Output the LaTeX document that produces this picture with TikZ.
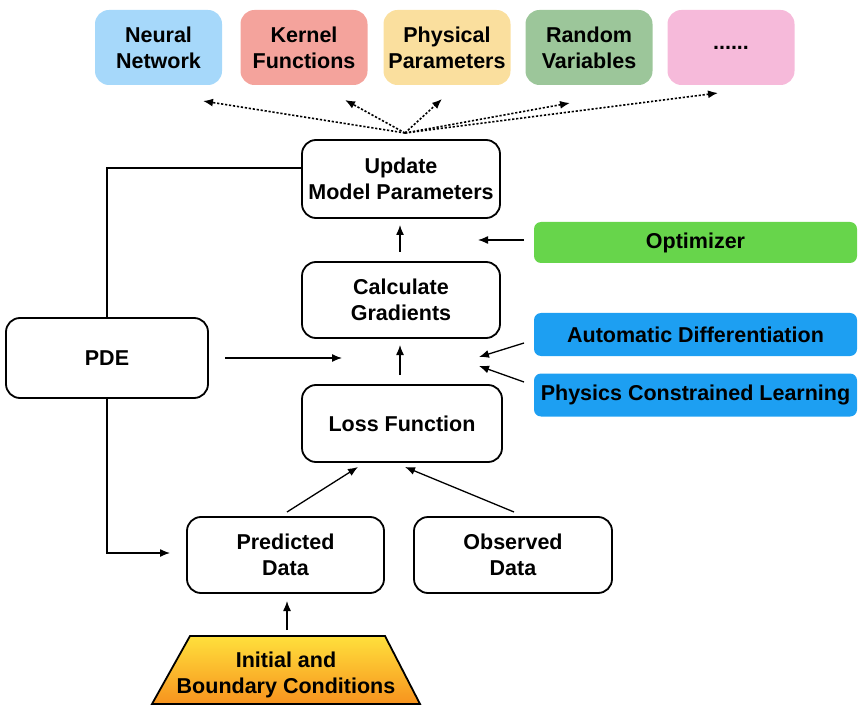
\documentclass[tikz,border=0pt]{standalone}
\usepackage{fontspec}
\setmainfont{Liberation Sans}
\usetikzlibrary{arrows.meta}
\definecolor{cNN}{HTML}{A6D8FA}
\definecolor{cKF}{HTML}{F4A39C}
\definecolor{cPP}{HTML}{FADF9E}
\definecolor{cRV}{HTML}{9CC69A}
\definecolor{cDOT}{HTML}{F6BADA}
\definecolor{cOPT}{HTML}{67D54B}
\definecolor{cBLU}{HTML}{1D9FF2}
\definecolor{cYel}{HTML}{FFE03C}
\definecolor{cOra}{HTML}{F7931E}
\begin{document}
\begin{tikzpicture}[x=1pt,y=-1pt,
  every node/.style={font=\fontsize{21.5}{26}\selectfont\bfseries, align=center, inner sep=0pt},
  topbox/.style={rounded corners=14pt, minimum width=127pt, minimum height=75pt},
  mainbox/.style={draw=black, line width=1.8pt, rounded corners=14pt, fill=white},
  sidebox/.style={rounded corners=7pt, minimum width=323pt, minimum height=43pt, fill=cBLU},
  arr/.style={line width=1.3pt, -{Latex[length=10pt,width=8pt]}},
  dotarr/.style={line width=1.6pt, dash pattern=on 2.2pt off 1.8pt, -{Latex[length=10pt,width=8pt]}},
  plain/.style={line width=1.3pt}]
\useasboundingbox (0,0) rectangle (864,708);
% top boxes
\node[topbox, fill=cNN] (nn) at (158.5,47.5) {Neural\\Network};
\node[topbox, fill=cKF] (kf) at (304,47.5) {Kernel\\Functions};
\node[topbox, fill=cPP] (pp) at (447,47.5) {Physical\\Parameters};
\node[topbox, fill=cRV] (rv) at (589,47.5) {Random\\Variables};
\node[topbox, fill=cDOT] (dd) at (731,47.5) {\raisebox{-4pt}{......}};
% main boxes
\node[mainbox, minimum width=198pt, minimum height=78pt] (upd) at (401,179) {Update\\Model Parameters};
\node[mainbox, minimum width=198pt, minimum height=76pt] (cg) at (401,300) {Calculate\\Gradients};
\node[mainbox, minimum width=200pt, minimum height=77pt] (lf) at (402,423.5) {Loss Function};
\node[mainbox, minimum width=202pt, minimum height=80pt] (pde) at (107,358) {PDE};
\node[mainbox, minimum width=197pt, minimum height=76pt] (pd) at (285.5,555) {Predicted\\Data};
\node[mainbox, minimum width=198pt, minimum height=76pt] (od) at (513,555) {Observed\\Data};
% side boxes
\node[sidebox, fill=cOPT, minimum height=41pt] (opt) at (695.5,242.5) {Optimizer};
\node[sidebox] (ad) at (695.5,334.5) {Automatic Differentiation};
\node[sidebox] (pcl) at (695.5,395) {Physics Constrained Learning};
% initial and boundary conditions
\shade[top color=cYel, bottom color=cOra, draw=black, line width=1.8pt, line join=miter]
  (190,636) -- (385,636) -- (420,704) -- (152,704) -- cycle;
\node (ibc) at (286,675) {Initial and\\Boundary Conditions};
\coordinate (ibctop) at (287,630);
% dotted arrows
\coordinate (src) at (405,133);
\coordinate (tnn) at (203,101);
\coordinate (tkf) at (345,100);
\coordinate (tpp) at (442,99);
\coordinate (trv) at (570,103);
\coordinate (tdd) at (718,93);
\draw[dotarr] (src) -- (tnn);
\draw[dotarr] (src) -- (tkf);
\draw[dotarr] (src) -- (tpp);
\draw[dotarr] (src) -- (trv);
\draw[dotarr] (src) -- (tdd);
% PDE feedback lines
\coordinate (u1) at (301,168);
\coordinate (c1) at (107,168);
\coordinate (c2) at (107,553);
\coordinate (c3) at (170,553);
\draw[plain] (u1) -- (c1) -- (pde.north);
\draw[arr] (pde.south) -- (c2) -- (c3);
% PDE to gradient flow
\coordinate (pdeE) at (225,358);
\coordinate (pdeT) at (342,358);
\draw[arr] (pdeE) -- (pdeT);
% vertical arrows
\coordinate (a1) at (400,375);
\coordinate (a2) at (400,345);
\draw[arr] (a1) -- (a2);
\coordinate (b1) at (400,252);
\coordinate (b2) at (400,225);
\draw[arr] (b1) -- (b2);
% side arrows
\coordinate (o1) at (524,240);
\coordinate (o2) at (478,240);
\draw[arr] (o1) -- (o2);
\coordinate (d1) at (524,343);
\coordinate (d2) at (479,357);
\draw[arr] (d1) -- (d2);
\coordinate (p1) at (524,382);
\coordinate (p2) at (479,366);
\draw[arr] (p1) -- (p2);
% data to loss
\coordinate (pdT) at (287,512);
\coordinate (lfL) at (358,467);
\draw[arr] (pdT) -- (lfL);
\coordinate (odT) at (514,512);
\coordinate (lfR) at (405,467);
\draw[arr] (odT) -- (lfR);
% ibc to predicted
\coordinate (pdB) at (287,601);
\draw[arr] (ibctop) -- (pdB);
\end{tikzpicture}
\end{document}
